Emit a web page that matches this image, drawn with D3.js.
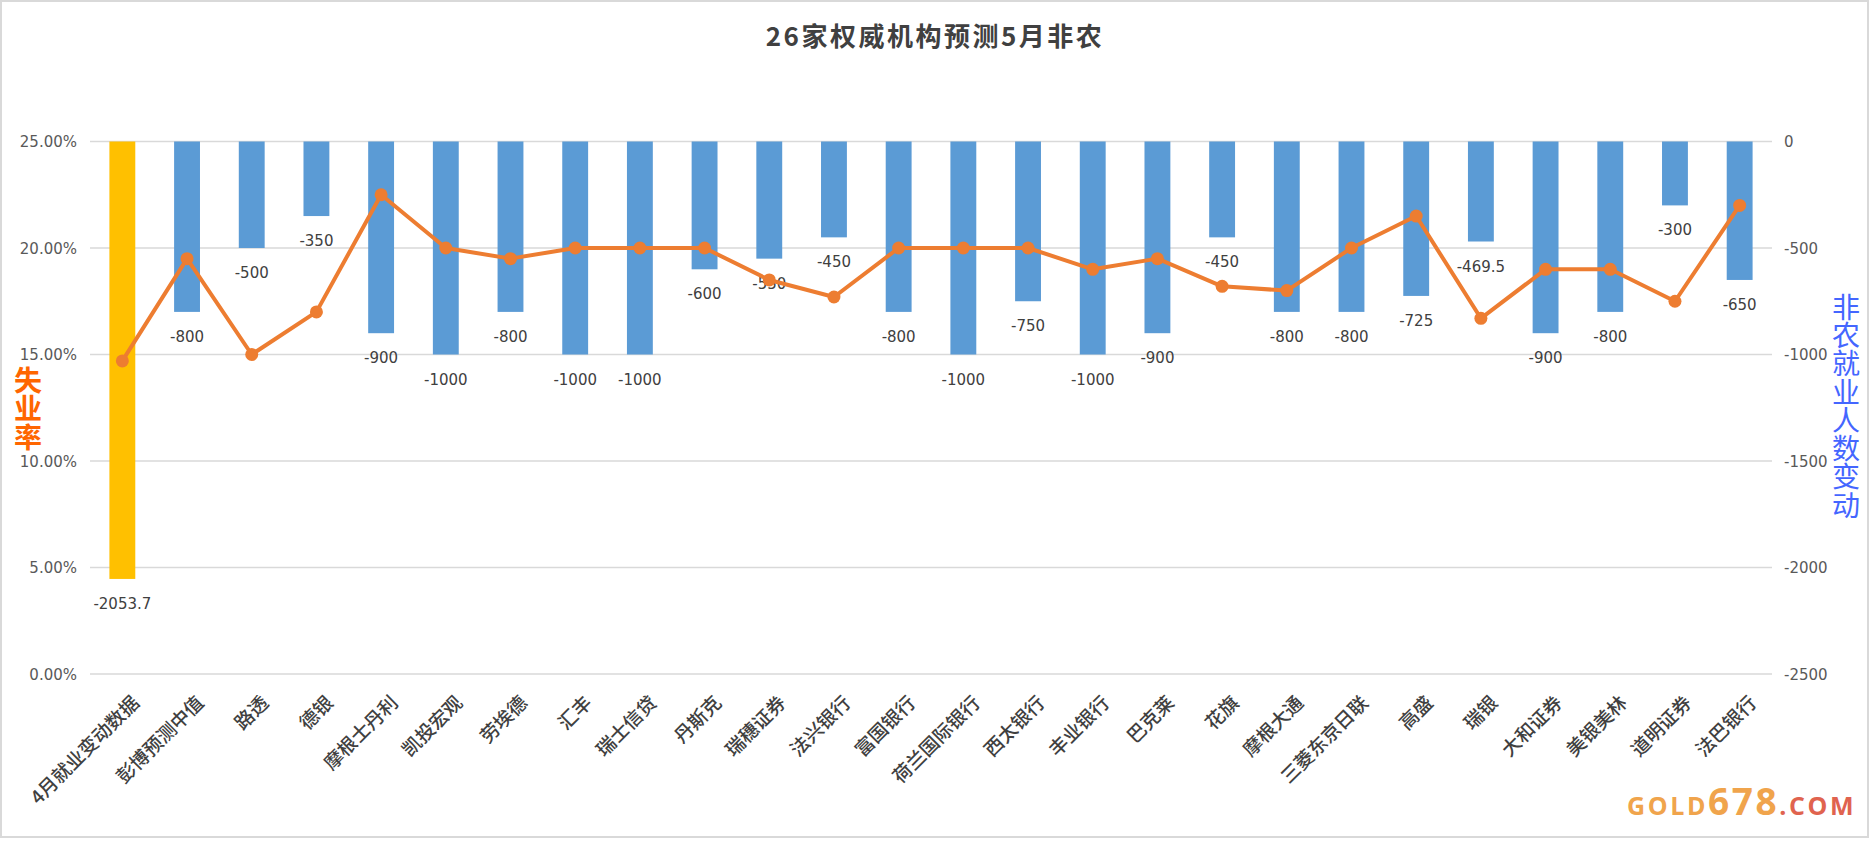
<!DOCTYPE html>
<html><head><meta charset="utf-8">
<script src="https://cdn.jsdelivr.net/npm/d3@7/dist/d3.min.js"></script>
<style>
html,body{margin:0;padding:0;background:#fff;}
svg{display:block;}
</style></head>
<body>
<svg id="chart" width="1874" height="841"></svg>
<script>
const categories = ["4月就业变动数据","彭博预测中值","路透","德银","摩根士丹利","凯投宏观","劳埃德","汇丰","瑞士信贷","丹斯克","瑞穗证券","法兴银行","富国银行","荷兰国际银行","西太银行","丰业银行","巴克莱","花旗","摩根大通","三菱东京日联","高盛","瑞银","大和证券","美银美林","道明证券","法巴银行"];
const payrolls = [-2053.7,-800,-500,-350,-900,-1000,-800,-1000,-1000,-600,-550,-450,-800,-1000,-750,-1000,-900,-450,-800,-800,-725,-469.5,-900,-800,-300,-650];
const unemployment = [14.7,19.5,15.0,17.0,22.5,20.0,19.5,20.0,20.0,20.0,18.5,17.7,20.0,20.0,20.0,19.0,19.5,18.2,18.0,20.0,21.5,16.7,19.0,19.0,17.5,22.0];
const leftTicks = [0,5,10,15,20,25];
const rightTicks = [0,-500,-1000,-1500,-2000,-2500];
const title = "26家权威机构预测5月非农";
const leftTitle = "失业率";
const rightTitle = "非农就业人数变动";

const svg = d3.select("#chart");
const plot = {left: 90, right: 1772, top: 141.5, bottom: 674};

svg.append("rect").attr("x",1).attr("y",1).attr("width",1867).attr("height",836)
  .attr("fill","#fff").attr("stroke","#D9D9D9").attr("stroke-width",2);

const x = d3.scaleBand().domain(categories).range([plot.left, plot.right]).paddingInner(0.6).paddingOuter(0.3);
const yL = d3.scaleLinear().domain([0,25]).range([plot.bottom, plot.top]);
const yR = d3.scaleLinear().domain([-2500,0]).range([plot.bottom, plot.top]);

// gridlines
svg.append("g").selectAll("line").data(leftTicks).join("line")
  .attr("x1", plot.left).attr("x2", plot.right)
  .attr("y1", d=>yL(d)).attr("y2", d=>yL(d))
  .attr("stroke","#D9D9D9").attr("stroke-width",1.5);

// left axis
const axL = d3.axisLeft(yL).tickValues(leftTicks).tickFormat(d=>d.toFixed(2)+"%").tickSize(0).tickPadding(13);
const gL = svg.append("g").attr("transform",`translate(${plot.left},0)`).call(axL);
gL.select(".domain").remove();
gL.selectAll("text").attr("font-family","DejaVu Sans").attr("font-size",15).attr("fill","#595959").attr("dy","0.35em");

// right axis
const axR = d3.axisRight(yR).tickValues(rightTicks).tickFormat(d=>String(d)).tickSize(0).tickPadding(12);
const gR = svg.append("g").attr("transform",`translate(${plot.right},0)`).call(axR);
gR.select(".domain").remove();
gR.selectAll("text").attr("font-family","DejaVu Sans").attr("font-size",15).attr("fill","#595959").attr("dy","0.35em");

// bars
svg.append("g").selectAll("rect").data(payrolls).join("rect")
  .attr("x",(d,i)=>x(categories[i]))
  .attr("width",x.bandwidth())
  .attr("y",yR(0))
  .attr("height",d=>yR(d)>yR(0)? yR(d)-yR(0):0)
  .attr("fill",(d,i)=> i===0 ? "#FFC000" : "#5B9BD5");

// bar labels
svg.append("g").selectAll("text").data(payrolls).join("text")
  .attr("x",(d,i)=>x(categories[i])+x.bandwidth()/2)
  .attr("y",d=>yR(d)+30)
  .attr("text-anchor","middle")
  .attr("font-family","DejaVu Sans").attr("font-size",15).attr("fill","#404040")
  .text(d=>String(d));

// line
const cx = (i)=> x(categories[i])+x.bandwidth()/2;
const line = d3.line().x((d,i)=>cx(i)).y(d=>yL(d));
svg.append("path").datum(unemployment).attr("d",line)
  .attr("fill","none").attr("stroke","#ED7D31").attr("stroke-width",4).attr("stroke-linejoin","round");
svg.append("g").selectAll("circle").data(unemployment).join("circle")
  .attr("cx",(d,i)=>cx(i)).attr("cy",d=>yL(d)).attr("r",6.5).attr("fill","#ED7D31");

// x labels
svg.append("g").selectAll("text").data(categories).join("text")
  .attr("transform",(d,i)=>`translate(${cx(i)+18},${plot.bottom+30}) rotate(-45)`)
  .attr("text-anchor","end")
  .attr("font-family","Noto Sans CJK SC").attr("font-size",19).attr("font-weight",500).attr("fill","#404040")
  .text(d=>d);

// title
svg.append("text").attr("x",935).attr("y",46).attr("text-anchor","middle")
  .attr("font-family","Noto Sans CJK SC").attr("font-weight","bold").attr("font-size",26)
  .attr("letter-spacing",2.5).attr("fill","#404040").text(title);

// left axis title (vertical)
svg.append("text").attr("x",28).attr("y",366)
  .style("writing-mode","vertical-rl").attr("letter-spacing",0.5)
  .attr("font-family","Noto Sans CJK SC").attr("font-weight",700).attr("font-size",28)
  .attr("fill","#FF6600").text(leftTitle);

// right axis title (vertical)
svg.append("text").attr("x",1846).attr("y",293)
  .style("writing-mode","vertical-rl").attr("letter-spacing",0.3)
  .attr("font-family","Noto Sans CJK SC").attr("font-weight",400).attr("font-size",28)
  .attr("fill","#4466FF").text(rightTitle);

// watermark
const wm = svg.append("text").attr("x",1627).attr("y",815).attr("font-family","Open Sans").attr("font-weight",700).attr("letter-spacing",2.6);
wm.append("tspan").attr("font-size",25).attr("fill","#F0A44C").text("GOLD");
wm.append("tspan").attr("font-size",37).attr("fill","#F0A44C").text("678");
wm.append("tspan").attr("font-size",25).attr("fill","#E0634F").text(".COM");
</script>
</body></html>
